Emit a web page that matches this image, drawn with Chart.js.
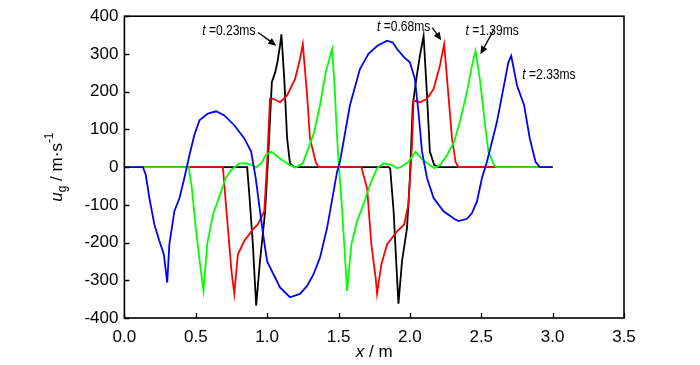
<!DOCTYPE html>
<html>
<head>
<meta charset="utf-8">
<script src="https://cdn.jsdelivr.net/npm/chart.js@4/dist/chart.umd.min.js"></script>
<style>
  html, body { margin: 0; padding: 0; background: #fff; }
</style>
</head>
<body>
<canvas id="myChart" width="700" height="365"></canvas>
<script>
// tick values
const xTicks = [0, 0.5, 1.0, 1.5, 2.0, 2.5, 3.0, 3.5];
const yTicks = [-400, -300, -200, -100, 0, 100, 200, 300, 400];

// t = 0.23 ms (black)
const xBlack = [0, 0.86, 0.877, 0.90, 0.923, 0.95, 0.986, 1.009, 1.033, 1.056, 1.072, 1.09, 1.10, 1.12, 1.14, 1.16, 1.19,
  1.85, 1.862, 1.886, 1.91, 1.92, 1.945, 1.98, 2.00, 2.02, 2.045, 2.07, 2.096, 2.12, 2.14, 2.17, 2.20, 3.0];
const yBlack = [0, 0, -82, -205, -367, -249, -117, 41, 225, 251, 278, 322, 352, 234, 76, 10, 0,
  0, -3, -117, -293, -362, -249, -161, -29, 164, 234, 295, 348, 190, 41, 6, 0, 0];

// t = 0.68 ms (red)
const xRed = [0, 0.69, 0.70, 0.725, 0.75, 0.77, 0.795, 0.84, 0.90, 0.935, 0.98, 1.00, 1.02, 1.044, 1.09, 1.14, 1.196, 1.23, 1.25,
  1.28, 1.30, 1.34, 1.36, 1.66, 1.70, 1.73, 1.76, 1.77, 1.80, 1.84, 1.91, 1.96, 1.99, 2.015, 2.026, 2.07, 2.12, 2.166,
  2.21, 2.24, 2.27, 2.295, 2.32, 2.34, 3.0];
const yRed = [0, 0, -47, -161, -275, -336, -231, -196, -165, -152, -117, 14, 181, 181, 172, 190, 234, 286, 326,
  190, 76, 14, 0, 0, -56, -205, -293, -336, -258, -205, -170, -152, -99, 58, 177, 172, 181, 207,
  269, 326, 190, 76, 14, 0, 0];

// t = 1.39 ms (green)
const xGreen = [0, 0.45, 0.47, 0.50, 0.53, 0.554, 0.58, 0.62, 0.67, 0.71, 0.75, 0.806, 0.853, 0.89, 0.92, 0.96, 0.99, 1.03,
  1.09, 1.16, 1.20, 1.25, 1.28, 1.33, 1.37, 1.41, 1.455, 1.47, 1.49, 1.50, 1.52, 1.54, 1.56, 1.59, 1.63, 1.675, 1.72,
  1.77, 1.815, 1.875, 1.91, 1.94, 1.99, 2.04, 2.09, 2.17, 2.21, 2.26, 2.31, 2.35, 2.40, 2.435, 2.46, 2.49, 2.53, 2.55,
  2.59, 2.61, 3.0];
const yGreen = [0, 0, -47, -161, -258, -328, -205, -126, -73, -29, -7, 10, 10, 6, -1, 10, 32, 41,
  23, 5, -1, 10, 41, 93, 164, 251, 313, 230, 80, 14, -82, -205, -328, -205, -143, -99, -47,
  -3, 10, 5, -3, 1, 14, 41, 19, -3, 5, 32, 67, 120, 199, 269, 308, 234, 102, 41,
  5, 0, 0];

// t = 2.33 ms (blue)
const xBlue = [0, 0.13, 0.15, 0.175, 0.21, 0.245, 0.276, 0.30, 0.315, 0.35, 0.386, 0.42, 0.456, 0.49, 0.526, 0.584, 0.643,
  0.70, 0.77, 0.84, 0.888, 0.92, 0.95, 0.98, 1.00, 1.044, 1.09, 1.16, 1.23, 1.28, 1.325, 1.37, 1.42, 1.49, 1.51, 1.58,
  1.65, 1.71, 1.77, 1.84, 1.88, 1.91, 1.96, 2.00, 2.035, 2.06, 2.085, 2.12, 2.166, 2.236, 2.31, 2.34, 2.40, 2.435,
  2.47, 2.505, 2.54, 2.61, 2.69, 2.71, 2.75, 2.80, 2.84, 2.88, 2.91, 3.0];
const yBlue = [0, 0, -21, -82, -152, -196, -231, -306, -205, -117, -82, -29, 32, 85, 124, 142, 148,
  137, 111, 76, 41, -29, -117, -200, -250, -284, -319, -345, -336, -315, -284, -240, -161, -12, 14, 164,
  260, 300, 321, 335, 330, 313, 291, 278, 234, 146, 41, -29, -82, -117, -137, -143, -137, -122,
  -91, -29, 14, 120, 278, 295, 217, 164, 76, 14, 0, 0];

// labels with arrows, given in data units
const notes = [
  { t: 't', rest: ' =0.23ms', x: 0.545, y: 350, from: [0.937, 357], to: [1.064, 322] },
  { t: 't', rest: ' =0.68ms', x: 1.77, y: 362, from: [2.157, 370], to: [2.22, 336] },
  { t: 't', rest: ' =1.39ms', x: 2.39, y: 351, from: [2.585, 362], to: [2.494, 299] },
  { t: 't', rest: ' =2.33ms', x: 2.788, y: 233, from: null, to: null }
];

const FONT = '"Liberation Sans", Arial, sans-serif';
const pts = (xs, ys) => xs.map((v, i) => ({ x: v, y: ys[i] }));
const line = (label, xs, ys, color) => ({
  label: label,
  data: pts(xs, ys),
  borderColor: color,
  backgroundColor: color,
  borderWidth: 1.8,
  pointRadius: 0,
  showLine: true,
  tension: 0,
  fill: false
});

const decor = {
  id: 'decor',
  afterDatasetsDraw(chart) {
    const { ctx, chartArea: a, scales: { x, y } } = chart;
    ctx.save();
    ctx.strokeStyle = '#000';
    ctx.lineWidth = 1.6;
    ctx.strokeRect(a.left, a.top, a.right - a.left, a.bottom - a.top);
    ctx.lineWidth = 1.3;
    ctx.beginPath();
    yTicks.forEach(v => {
      const p = Math.round(y.getPixelForValue(v)) + 0.5;
      ctx.moveTo(a.left, p); ctx.lineTo(a.left + 5, p);
    });
    xTicks.forEach(v => {
      const p = Math.round(x.getPixelForValue(v)) + 0.5;
      ctx.moveTo(p, a.bottom); ctx.lineTo(p, a.bottom - 5);
    });
    ctx.stroke();

    // notes (slightly condensed text)
    ctx.fillStyle = '#000';
    ctx.textBaseline = 'alphabetic';
    ctx.textAlign = 'left';
    notes.forEach(n => {
      const px = x.getPixelForValue(n.x), py = y.getPixelForValue(n.y);
      ctx.save();
      ctx.translate(px, py);
      ctx.scale(0.86, 1);
      ctx.font = 'italic 14px ' + FONT;
      ctx.fillText(n.t, 0, 0);
      const w = ctx.measureText(n.t).width;
      ctx.font = '14px ' + FONT;
      ctx.fillText(n.rest, w, 0);
      ctx.restore();
      if (n.from) {
        const x0 = x.getPixelForValue(n.from[0]), y0 = y.getPixelForValue(n.from[1]);
        const x1 = x.getPixelForValue(n.to[0]), y1 = y.getPixelForValue(n.to[1]);
        const ang = Math.atan2(y1 - y0, x1 - x0);
        const hl = 8, hw = 3.5;
        ctx.lineWidth = 1.3;
        ctx.beginPath();
        ctx.moveTo(x0, y0);
        ctx.lineTo(x1 - Math.cos(ang) * hl * 0.8, y1 - Math.sin(ang) * hl * 0.8);
        ctx.stroke();
        ctx.beginPath();
        ctx.moveTo(x1, y1);
        ctx.lineTo(x1 - Math.cos(ang) * hl - Math.sin(ang) * hw, y1 - Math.sin(ang) * hl + Math.cos(ang) * hw);
        ctx.lineTo(x1 - Math.cos(ang) * hl + Math.sin(ang) * hw, y1 - Math.sin(ang) * hl - Math.cos(ang) * hw);
        ctx.closePath();
        ctx.fill();
      }
    });

    // x axis title: x / m
    const cx = (a.left + a.right) / 2;
    ctx.font = 'italic 17px ' + FONT;
    const wx = ctx.measureText('x').width;
    ctx.font = '17px ' + FONT;
    const wr = ctx.measureText(' / m').width;
    let sx = cx - (wx + wr) / 2;
    ctx.textBaseline = 'middle';
    ctx.font = 'italic 17px ' + FONT;
    ctx.fillText('x', sx, 352);
    ctx.font = '17px ' + FONT;
    ctx.fillText(' / m', sx + wx, 352);

    // y axis title: u_g / m·s^-1
    ctx.translate(57, (a.top + a.bottom) / 2);
    ctx.rotate(-Math.PI / 2);
    const parts = [
      { s: 'u', f: 'italic 17px ', dy: 0 },
      { s: 'g', f: '12px ', dy: 6 },
      { s: ' / m\u00b7s', f: '17px ', dy: 0 },
      { s: '-1', f: '12px ', dy: -7 }
    ];
    let tw = 0;
    parts.forEach(p => { ctx.font = p.f + FONT; p.w = ctx.measureText(p.s).width; tw += p.w; });
    let ox = -tw / 2;
    parts.forEach(p => {
      ctx.font = p.f + FONT;
      ctx.fillText(p.s, ox, p.dy);
      ox += p.w;
    });
    ctx.restore();
  }
};

const ctx = document.getElementById('myChart');
new Chart(ctx, {
  type: 'scatter',
  data: {
    datasets: [
      line('2.33ms', xBlue, yBlue, '#0000ff'),
      line('1.39ms', xGreen, yGreen, '#00ff00'),
      line('0.68ms', xRed, yRed, '#ff0000'),
      line('0.23ms', xBlack, yBlack, '#000000')
    ]
  },
  options: {
    responsive: false,
    animation: false,
    layout: { padding: { top: 14, right: 76, bottom: 0, left: 0 } },
    plugins: { legend: { display: false }, tooltip: { enabled: false } },
    scales: {
      x: {
        type: 'linear',
        min: 0, max: 3.5,
        afterFit: s => { s.height = 47; },
        afterBuildTicks: s => { s.ticks = xTicks.map(v => ({ value: v })); },
        grid: { display: false, drawTicks: false },
        border: { display: false },
        ticks: {
          padding: 9,
          color: '#000',
          font: { family: FONT, size: 17 },
          callback: v => v.toFixed(1)
        }
      },
      y: {
        type: 'linear',
        min: -400, max: 400,
        afterFit: s => { s.width = 124.4; },
        afterBuildTicks: s => { s.ticks = yTicks.map(v => ({ value: v })); },
        grid: { display: false, drawTicks: false },
        border: { display: false },
        ticks: {
          padding: 6,
          color: '#000',
          font: { family: FONT, size: 17 }
        }
      }
    }
  },
  plugins: [decor]
});
</script>
</body>
</html>
